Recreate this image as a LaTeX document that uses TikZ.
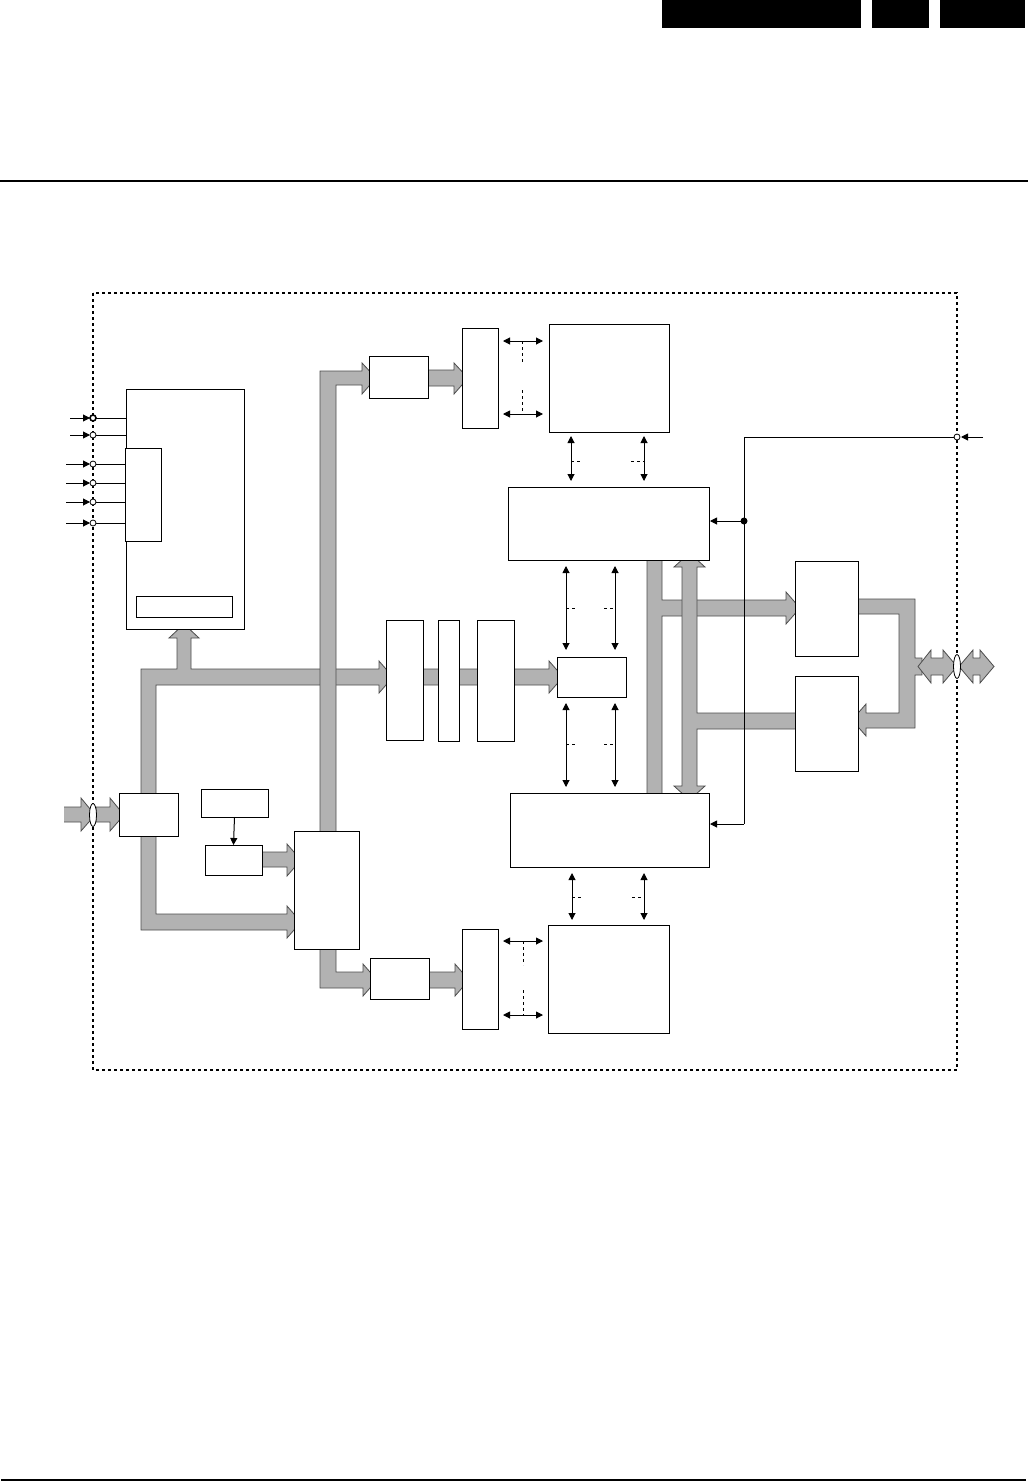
\documentclass[tikz,border=0pt]{standalone}
\usetikzlibrary{arrows.meta}
\definecolor{busgray}{RGB}{178,178,178}
\tikzset{
 blk/.style={draw, fill=white, line width=1pt, inner sep=0pt, outer sep=0pt, rectangle},
 bus/.style={fill=busgray, draw=black!70, line width=0.8pt, line join=miter},
 sig/.style={line width=1pt, -{Triangle[length=7pt,width=7pt]}},
 bisig/.style={line width=1pt, {Triangle[length=7pt,width=7pt]}-{Triangle[length=7pt,width=7pt]}},
 dsh/.style={line width=0.8pt, dash pattern=on 3pt off 3pt},
 port/.style={fill=white, draw, line width=0.8pt},
 frame/.style={line width=1.8pt, dash pattern=on 3pt off 3pt},
}
\newcommand\myblk[6][]{\node[blk,#1,minimum width={#5-#3},minimum height={#6-#4}] (#2) at ({(#3+#5)/2},{(#4+#6)/2}) {};}
\begin{document}
\begin{tikzpicture}[x=1pt,y=-1pt]
\useasboundingbox (0,0) rectangle (1028,1482);
% header
\myblk[fill=black,draw=none]{h1}{662}{0}{861}{28}
\myblk[fill=black,draw=none]{h2}{872}{0}{929}{28}
\myblk[fill=black,draw=none]{h3}{940}{0}{1025}{28}
\draw[line width=2pt] (0,181) -- (1028,181);
\draw[line width=2pt] (1,1480) -- (1026,1480);
% dashed frame
\draw[frame] (93,293) rectangle (957,1070);

% ---------- buses ----------
% left bus system
\draw[bus] (141,669) -- (177,669) -- (177,638) -- (169,638) -- (184,624) -- (199,638) -- (191,638) -- (191,669)
  -- (379,669) -- (379,661) -- (393,677) -- (379,693) -- (379,685) -- (156,685) -- (156,914)
  -- (287,914) -- (287,906) -- (301,922) -- (287,938) -- (287,930) -- (141,930) -- cycle;
% middle chain bus
\draw[bus] (400,669) -- (549,669) -- (549,661) -- (563,677) -- (549,693) -- (549,685) -- (400,685) -- cycle;
% vertical bus to top chain
\draw[bus] (320,840) -- (320,371) -- (362,371) -- (362,363) -- (376,378) -- (362,394) -- (362,385) -- (336,385) -- (336,840) -- cycle;
% bottom bus from mux
\draw[bus] (320,940) -- (320,988) -- (363,988) -- (363,996) -- (377,980) -- (363,964) -- (363,972) -- (336,972) -- (336,940) -- cycle;
% small bus to mux
\draw[bus] (255,852) -- (287,852) -- (287,844) -- (301,860) -- (287,876) -- (287,867) -- (255,867) -- cycle;
% top chain bus
\draw[bus] (420,370) -- (454,370) -- (454,363) -- (468,378) -- (454,394) -- (454,386) -- (420,386) -- cycle;
% bottom chain bus
\draw[bus] (420,972) -- (455,972) -- (455,964) -- (469,980) -- (455,996) -- (455,988) -- (420,988) -- cycle;
% input bus
\fill[busgray] (64,807) -- (81,807) -- (81,798) -- (95,815) -- (81,831) -- (81,822) -- (64,822) -- cycle;
\draw[draw=black!70, line width=0.8pt, line join=miter] (64,807) -- (81,807) -- (81,798) -- (95,815) -- (81,831) -- (81,822) -- (64,822);
\draw[bus] (96,807) -- (110,807) -- (110,798) -- (124,815) -- (110,831) -- (110,822) -- (96,822) -- cycle;
\draw[port] (93,815) ellipse [x radius=3.5, y radius=11.5];
% bus A
\draw[bus] (647,555) -- (662,555) -- (662,600) -- (786,600) -- (786,592) -- (800,608) -- (786,624) -- (786,616) -- (662,616) -- (662,798) -- (647,798) -- cycle;
% bus B
\draw[bus] (682,567) -- (674,567) -- (689.5,553) -- (705,567) -- (697,567) -- (697,713) -- (800,713) -- (800,729) -- (697,729)
  -- (697,786) -- (705,786) -- (689.5,800) -- (674,786) -- (682,786) -- cycle;
% output bus loop
\draw[bus] (852,599) -- (915,599) -- (915,658) -- (922,658) -- (922,675) -- (915,675) -- (915,728) -- (866,728) -- (866,736)
  -- (852,720) -- (866,704) -- (866,713) -- (899,713) -- (899,614) -- (852,614) -- cycle;
% double arrows at output
\draw[bus] (918,666.5) -- (931,650) -- (931,658) -- (943,658) -- (943,650) -- (957,666.5) -- (943,683) -- (943,675) -- (931,675) -- (931,683) -- cycle;
\draw[bus] (959,666.5) -- (973,650) -- (973,658) -- (980,658) -- (980,650) -- (994,666.5) -- (980,683) -- (980,675) -- (973,675) -- (973,683) -- cycle;
\draw[port] (957,666.5) ellipse [x radius=3.5, y radius=12];

% ---------- blocks ----------
\myblk{inblk}{126}{389}{244}{629}
\myblk{ininner}{125}{448}{161}{541}
\myblk{inbot}{136}{596}{232}{617}
\myblk{rx}{119}{793}{178}{836}
\myblk{sa}{201}{789}{268}{817}
\myblk{sb}{205}{845}{262}{875}
\myblk{mux}{294}{831}{359}{949}
\myblk{ta}{369}{356}{428}{398}
\myblk{tb}{462}{328}{498}{428}
\myblk{memT}{549}{324}{669}{432}
\myblk{ba}{370}{958}{429}{999}
\myblk{bb}{462}{929}{498}{1029}
\myblk{memB}{548}{925}{669}{1033}
\myblk{m1}{386}{620}{423}{740}
\myblk{m2}{438}{620}{459}{741}
\myblk{m3}{477}{620}{514}{741}
\myblk{mc}{557}{657}{626}{697}
\myblk{ctrlT}{508}{487}{709}{560}
\myblk{ctrlB}{510}{793}{709}{867}
\myblk{ra}{795}{561}{858}{656}
\myblk{rb}{795}{676}{858}{771}

% ---------- thin signals ----------
\draw[sig] (sa.south) -- (sb.north);
% left inputs
\foreach \yy in {418,435} {
  \draw[sig] (70,\yy) -- (90,\yy);
  \draw[line width=1pt] (96,\yy) -- (126,\yy);
}
\foreach \yy in {464,483,502,523} {
  \draw[sig] (66,\yy) -- (90,\yy);
  \draw[line width=1pt] (96,\yy) -- (125,\yy);
}
\draw[port, line width=1.6pt] (93,418) circle (3);
\foreach \yy in {435,464,483,502,523} { \draw[port] (93,\yy) circle (3); }

% top memory links
\draw[bisig] (503,341) -- (543,341);
\draw[bisig] (503,414) -- (543,414);
\draw[dsh] (522,341) -- (522,363);
\draw[dsh] (522,390) -- (522,414);
% bottom memory links
\draw[bisig] (503,941) -- (543,941);
\draw[bisig] (503,1015) -- (543,1015);
\draw[dsh] (523,941) -- (523,965);
\draw[dsh] (523,990) -- (523,1015);
% vertical bidirectional links
\draw[bisig] (571,436) -- (571,481);
\draw[bisig] (644,436) -- (644,481);
\draw[dsh] (571,461) -- (582,461);
\draw[dsh] (631,461) -- (644,461);

\draw[bisig] (566,566) -- (566,650);
\draw[bisig] (615,566) -- (615,650);
\draw[dsh] (566,608) -- (575,608);
\draw[dsh] (604,608) -- (615,608);

\draw[bisig] (566,703) -- (566,787);
\draw[bisig] (615,703) -- (615,787);
\draw[dsh] (566,744) -- (575,744);
\draw[dsh] (604,744) -- (615,744);

\draw[bisig] (572,873) -- (572,920);
\draw[bisig] (644,873) -- (644,920);
\draw[dsh] (572,897) -- (582,897);
\draw[dsh] (632,897) -- (644,897);

% right control line
\draw[line width=1pt] (954,437) -- (744,437) -- (744,824);
\draw[sig] (744,824) -- (710,824);
\draw[sig] (744,521) -- (710,521);
\fill (744,521) circle (3.5);
\draw[sig] (983,437) -- (961,437);
\draw[port] (957,437) circle (3);
\end{tikzpicture}
\end{document}
